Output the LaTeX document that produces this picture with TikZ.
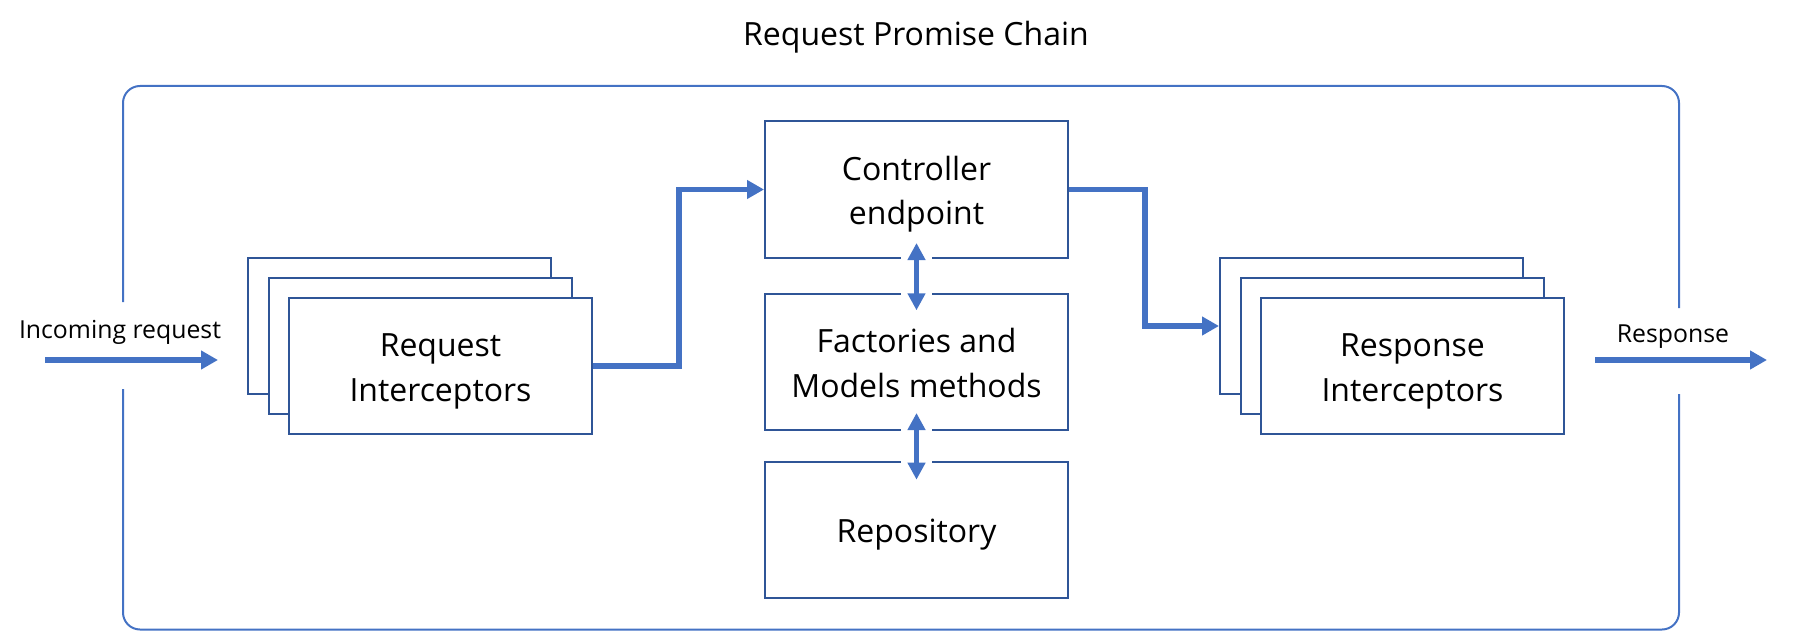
\documentclass[tikz,border=0pt]{standalone}
\usepackage{fontspec}
\setmainfont{Open Sans}
\usetikzlibrary{arrows.meta, positioning}
\def\px{0.75pt}
\def\boxtext#1{\rule{0pt}{26.25pt}#1\rule[-7pt]{0pt}{7pt}}
\definecolor{accent}{HTML}{4472C4}
\definecolor{boxline}{HTML}{2F5597}

\begin{document}
\begin{tikzpicture}[x=0.75pt, y=-0.75pt,
              every node/.style = {align=center},
              box/.style = {shape=rectangle, draw=boxline, line width=1.5pt,
                fill=white, inner sep=0pt,
                minimum width=303*\px, minimum height=136*\px,
                font=\fontsize{24}{33.5}\selectfont},
              sidetext/.style = {font=\fontsize{18.6}{22}\selectfont, anchor=base},
              flow/.style = {draw=accent, line width=4pt,
                -{Triangle[length=12.75pt, width=13.5pt]}},
              dbl/.style = {draw=accent, line width=3.75pt,
                {Triangle[length=12.75pt, width=12.75pt]}-{Triangle[length=12.75pt, width=12.75pt]}},
              halo/.style = {draw=white, line width=23pt},
              frame/.style = {draw=accent, line width=1.5pt, rounded corners=12.75pt}]
  \useasboundingbox (0,0) rectangle (1794,631);

  % title and outer frame
  \node[anchor=base, font=\fontsize{24}{28}\selectfont] (title) at (916,46) {Request Promise Chain};
  \draw[frame] (123,302) -- (123,86) -- (1679,86) -- (1679,308);
  \draw[frame] (1679,394) -- (1679,629.5) -- (123,629.5) -- (123,389);

  % request interceptors, back to front
  \node[box] (req3) at (399.5,326) {};
  \node[box] (req2) at (420,345.5) {};
  \node[box] (req1) at (440.5,366) {\boxtext{Request\\Interceptors}};

  % middle column
  \node[box, minimum height=137*\px] (ctrl) at (916.5,189.5) {\boxtext{Controller\\endpoint}};
  \node[box] (fact) at (916.5,362) {\boxtext{Factories and\\Models methods}};
  \node[box] (repo) at (916.5,530) {\boxtext{Repository}};

  % response interceptors, back to front
  \node[box] (resp3) at (1371.5,326) {};
  \node[box] (resp2) at (1392,345.5) {};
  \node[box] (resp1) at (1412.5,366) {\boxtext{Response\\Interceptors}};

  % in and out
  \coordinate (in0) at (45,360);
  \coordinate (in1) at (218,360);
  \coordinate (out0) at (1595,360);
  \coordinate (out1) at (1767,360);
  \node[sidetext] (inlabel) at (120,338) {Incoming request};
  \node[sidetext] (outlabel) at (1673,342) {Response};
  \draw[flow] (in0) -- (in1);
  \draw[flow] (out0) -- (out1);

  % chain
  \draw[flow] (req1.east) -- ++(86,0) |- (ctrl.west);
  \draw[flow] (ctrl.east) -- ++(76,0) |- (resp3.west);

  \draw[halo, shorten <=-3pt, shorten >=-3pt] (ctrl.south) -- (fact.north);
  \draw[halo, shorten <=-3pt, shorten >=-3pt] (fact.south) -- (repo.north);
  \draw[dbl, shorten <=-12pt, shorten >=-13pt] (ctrl.south) -- (fact.north);
  \draw[dbl, shorten <=-13.5pt, shorten >=-14pt] (fact.south) -- (repo.north);
\end{tikzpicture}
\end{document}
